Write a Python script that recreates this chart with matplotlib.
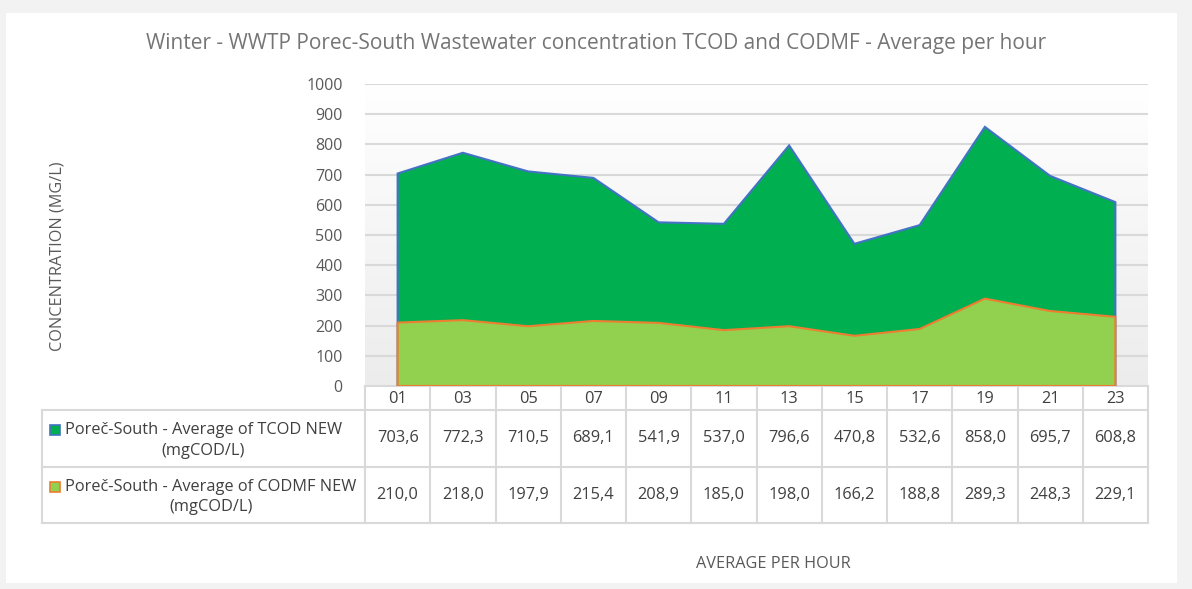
import matplotlib
matplotlib.use("Agg")
import matplotlib.pyplot as plt
import matplotlib.transforms as mtransforms
from matplotlib.patches import Rectangle
import numpy as np

hours = ["01", "03", "05", "07", "09", "11", "13", "15", "17", "19", "21", "23"]
tcod = [703.6, 772.3, 710.5, 689.1, 541.9, 537.0, 796.6, 470.8, 532.6, 858.0, 695.7, 608.8]
codmf = [210.0, 218.0, 197.9, 215.4, 208.9, 185.0, 198.0, 166.2, 188.8, 289.3, 248.3, 229.1]
series_names = ["Poreč-South - Average of TCOD NEW\n(mgCOD/L)",
                "Poreč-South - Average of CODMF NEW\n(mgCOD/L)"]
yticks = [0, 100, 200, 300, 400, 500, 600, 700, 800, 900, 1000]

W, H = 1192, 589
plt.rcParams['font.family'] = ['Open Sans', 'DejaVu Sans']
fig = plt.figure(figsize=(W / 100, H / 100), dpi=100)
fig.patch.set_facecolor('#f2f2f2')

# overlay axes in pixel coords
ov = fig.add_axes([0, 0, 1, 1])
ov.set_xlim(0, W)
ov.set_ylim(H, 0)
ov.axis('off')
ov.add_patch(Rectangle((6, 13), 1171, 570, facecolor='white', edgecolor='none', zorder=0))

# main axes
x0, x1, yt, yb = 365, 1148, 84, 386
ax = fig.add_axes([x0 / W, 1 - yb / H, (x1 - x0) / W, (yb - yt) / H])
ax.set_facecolor('none')
xs = np.arange(len(hours))
ax.set_xlim(-0.5, len(hours) - 0.5)
ax.set_ylim(0, 1000)

# gradient background
grad = np.linspace(0, 1, 256).reshape(-1, 1)
cmap = matplotlib.colors.LinearSegmentedColormap.from_list('g', ['#ececec', '#ffffff'])
ax.imshow(grad, aspect='auto', cmap=cmap, extent=[-0.5, len(hours) - 0.5, 0, 1000],
          origin='lower', zorder=0)

for t in yticks:
    ax.axhline(t, color='#d9d9d9', lw=1.5, zorder=1)

def area(vals, fc, ec, z):
    px = np.concatenate([[xs[0]], xs, [xs[-1]]])
    py = np.concatenate([[0], vals, [0]])
    ax.fill(px, py, facecolor=fc, edgecolor=ec, lw=1.5, zorder=z, joinstyle='miter')

area(tcod, '#00b050', '#4472c4', 2)
area(codmf, '#92d050', '#ed7d31', 3)

ax.set_yticks(yticks)
ax.set_yticklabels([str(t) for t in yticks], fontsize=11.5, color='#595959')
ax.tick_params(axis='y', length=0, pad=16)
ax.set_xticks([])
for s in ax.spines.values():
    s.set_visible(False)

# table
tr = mtransforms.blended_transform_factory(ax.transData, ov.transData)
lc = '#d9d9d9'
r0, r1, r2, r3 = 386, 410, 467, 523
tl = 42
ov.plot([x0, x1], [r0, r0], color=lc, lw=1.5, zorder=5)
for r in (r1, r2, r3):
    ov.plot([tl, x1], [r, r], color=lc, lw=1.5, zorder=5)
for i in range(len(hours) + 1):
    xb = -0.5 + i
    ov.plot([xb, xb], [r0, r3], color=lc, lw=1.5, transform=tr, zorder=5)
ov.plot([tl, tl], [r1, r3], color=lc, lw=1.5, zorder=5)

tcol = '#404040'
fs = 11.8
for i, h in enumerate(hours):
    ov.text(i, (r0 + r1) / 2 + 1, h, transform=tr, ha='center', va='center',
            fontsize=fs, color=tcol)
    ov.text(i, (r1 + r2) / 2, f"{tcod[i]:.1f}".replace('.', ','), transform=tr,
            ha='center', va='center', fontsize=fs, color=tcol)
    ov.text(i, (r2 + r3) / 2, f"{codmf[i]:.1f}".replace('.', ','), transform=tr,
            ha='center', va='center', fontsize=fs, color=tcol)

keys = [('#00b050', '#4472c4'), ('#92d050', '#ed7d31')]
for k, (rt, rbm) in enumerate([(r1, r2), (r2, r3)]):
    cy = (rt + rbm) / 2
    fc, ec = keys[k]
    ov.add_patch(Rectangle((50, cy - 13.5), 10, 10, facecolor=fc, edgecolor=ec, lw=1.2, zorder=6))
    ov.text(65, cy + 2, series_names[k], ha='left', va='center', fontsize=fs,
            color=tcol, multialignment='center', linespacing=1.35)

ov.text(596, 43, "Winter - WWTP Porec-South Wastewater concentration TCOD and CODMF - Average per hour",
        ha='center', va='center', fontsize=15, color='#757575')
ov.text(58, 256, "CONCENTRATION (MG/L)", rotation=90, ha='center', va='center',
        fontsize=11.7, color='#595959')
ov.text(773, 564, "AVERAGE PER HOUR", ha='center', va='center', fontsize=11.7, color='#595959')

fig.savefig('out.png', dpi=100, facecolor=fig.get_facecolor())
